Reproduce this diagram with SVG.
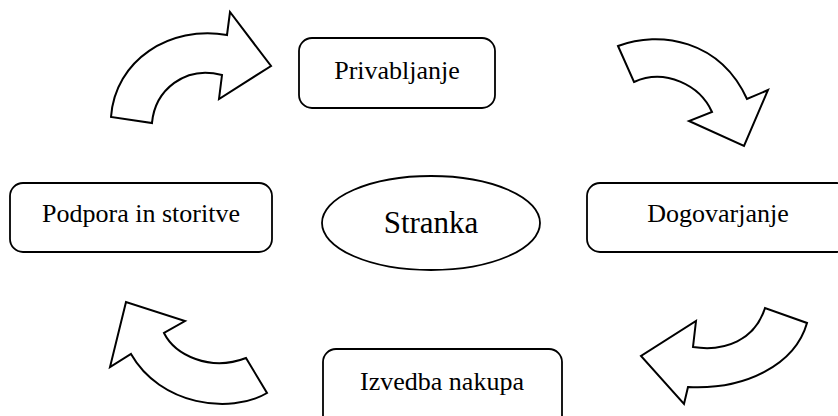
<svg xmlns="http://www.w3.org/2000/svg" width="838" height="416" viewBox="0 0 838 416">
<style>
.box{fill:#fff;stroke:#000;stroke-width:1.8}
.arrow{fill:#fff;stroke:#000;stroke-width:2;stroke-linejoin:miter}
.t{font-family:"Liberation Serif","Times New Roman",serif;font-size:26px;fill:#000;text-anchor:middle}
.big{font-size:31px}
</style>
<rect width="838" height="416" fill="#fff"/>
<g id="connectors">
<path class="arrow" d="M111,117 C115,60 170,25 227,35 L230,12 L271,66 L219,99 L222,75 C185,65 155,90 152,123 Z"/>
<path class="arrow" d="M618,46 C660,30 720,40 747,99 L768,90 L744,146 L689,121 L712,112 C700,85 665,68 634,82 Z"/>
<path class="arrow" d="M765,308 C755,340 725,352 693,347 L696,321 L641,356 L684,404 L688,387 C745,390 795,365 807,323 Z"/>
<path class="arrow" d="M164,333 C175,355 210,372 246,358 L267,393 C230,415 160,405 131,354 L110,367 L126,302 L185,321 Z"/>
</g>
<g id="privabljanje">
<rect class="box" x="299" y="38" width="196" height="70" rx="13"/>
<text class="t" x="397" y="79">Privabljanje</text>
</g>
<g id="podpora">
<rect class="box" x="10" y="183" width="262" height="69" rx="13"/>
<text class="t" x="141" y="222">Podpora in storitve</text>
</g>
<g id="stranka">
<ellipse class="box" cx="431" cy="223" rx="109" ry="47"/>
<text class="t big" x="431" y="233">Stranka</text>
</g>
<g id="dogovarjanje">
<rect class="box" x="587" y="183" width="263" height="69" rx="13"/>
<text class="t" x="718" y="222">Dogovarjanje</text>
</g>
<g id="izvedba">
<rect class="box" x="323" y="349" width="239" height="80" rx="13"/>
<text class="t" x="442" y="390">Izvedba nakupa</text>
</g>
</svg>
